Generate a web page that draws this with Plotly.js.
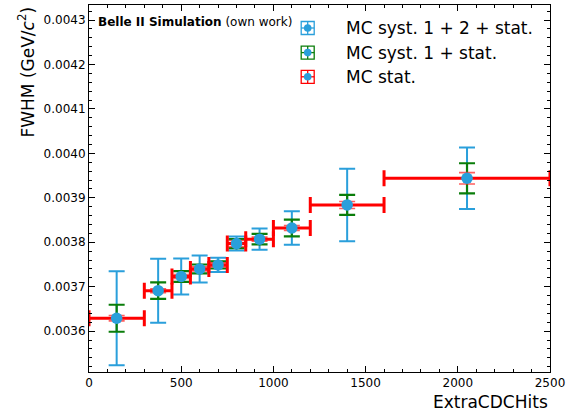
<!DOCTYPE html>
<html>
<head>
<meta charset="utf-8">
<script src="https://cdn.plot.ly/plotly-3.0.1.min.js"></script>
<style>html,body{margin:0;padding:0;background:#fff;}#plot{width:574px;height:413px;}</style>
</head>
<body>
<div id="plot"></div>
<script>
// ---- data ----
var binLow  = [0, 300, 450, 550, 650, 750, 850, 1000, 1200, 1600];
var binHigh = [300, 450, 550, 650, 750, 850, 1000, 1200, 1600, 2500];
var xCenter = [150, 375, 500, 600, 700, 800, 925, 1100, 1400, 2050];
var fwhm    = [0.003629, 0.003691, 0.003723, 0.003740, 0.003749, 0.003797, 0.003807, 0.003832, 0.003884, 0.003944];
var errStat   = [0.0000060, 0.0000045, 0.0000045, 0.0000045, 0.0000045, 0.0000068, 0.0000045, 0.0000056, 0.0000079, 0.0000128];
var errSyst1  = [0.0000304, 0.0000185, 0.0000120, 0.0000100, 0.0000080, 0.0000100, 0.0000117, 0.0000188, 0.0000225, 0.0000338];
var errSyst12 = [0.0001060, 0.0000720, 0.0000405, 0.0000304, 0.0000160, 0.0000158, 0.0000240, 0.0000378, 0.0000815, 0.0000691];
var legendLabels = ['MC syst. 1 + 2 + stat.', 'MC syst. 1 + stat.', 'MC stat.'];

var BLUE = '#2a9fdb', GREEN = '#0a7d0a', RED = '#ff0000';

var xPlus  = xCenter.map(function(v, i){ return binHigh[i] - v; });
var xMinus = xCenter.map(function(v, i){ return v - binLow[i]; });

var hidden = {size: 1, color: 'rgba(0,0,0,0)'};
var traces = [
  {x: xCenter, y: fwhm, type: 'scatter', mode: 'markers', marker: hidden, showlegend: false, hoverinfo: 'skip',
   error_y: {type: 'data', array: errSyst12, visible: true, color: BLUE, thickness: 2, width: 8}},
  {x: xCenter, y: fwhm, type: 'scatter', mode: 'markers', marker: hidden, showlegend: false, hoverinfo: 'skip',
   error_y: {type: 'data', array: errSyst1, visible: true, color: GREEN, thickness: 2.2, width: 8}},
  {x: xCenter, y: fwhm, type: 'scatter', mode: 'markers', showlegend: false,
   marker: {size: 11.5, color: BLUE},
   error_y: {type: 'data', array: errStat, visible: true, color: 'rgba(255,40,40,0.75)', thickness: 1.6, width: 8},
   error_x: {type: 'data', symmetric: false, array: xPlus, arrayminus: xMinus, visible: true, color: RED, thickness: 3, width: 8}}
];

// ---- manual legend (symbols like matplotlib errorbar handles) ----
var W = 461, H = 367, L = 89, T = 5;
function px(X){ return (X - L) / W; }
function py(Y){ return (T + H - Y) / H; }
var legCols = [BLUE, GREEN, RED];
var legRowsY = [28, 52.6, 76.8];
var shapes = [], annotations = [];
legCols.forEach(function(c, i){
  var ax = px(307.7), ay = py(legRowsY[i]);
  var base = {xref: 'paper', yref: 'paper', xsizemode: 'pixel', ysizemode: 'pixel', xanchor: ax, yanchor: ay};
  shapes.push(Object.assign({type: 'rect', x0: -6.5, x1: 6.5, y0: -6.5, y1: 6.5, line: {color: c, width: 1.3}}, base));
  shapes.push(Object.assign({type: 'line', x0: -6.5, x1: 6.5, y0: 0, y1: 0, line: {color: c, width: 1.3}}, base));
  shapes.push(Object.assign({type: 'line', x0: 0, x1: 0, y0: -6.5, y1: 6.5, line: {color: c, width: 1.3}}, base));
  shapes.push(Object.assign({type: 'circle', x0: -3.8, x1: 3.8, y0: -3.8, y1: 3.8, fillcolor: BLUE, line: {color: BLUE, width: 0}}, base));
  annotations.push({xref: 'paper', yref: 'paper', x: px(344), y: ay, xanchor: 'left', yanchor: 'middle',
    text: legendLabels[i], showarrow: false, font: {family: 'DejaVu Sans', size: 17, color: '#000'}});
});
annotations.push({xref: 'paper', yref: 'paper', x: px(96), y: py(22), xanchor: 'left', yanchor: 'middle',
  text: '<b>Belle II Simulation</b> (own work)', showarrow: false, font: {family: 'DejaVu Sans', size: 12, color: '#000'}});
annotations.push({xref: 'paper', yref: 'paper', x: 1, y: py(401.5), xanchor: 'right', yanchor: 'middle',
  text: 'ExtraCDCHits', showarrow: false, font: {family: 'DejaVu Sans', size: 17, color: '#000'}});
annotations.push({xref: 'paper', yref: 'paper', x: px(26), y: 1, xanchor: 'center', yanchor: 'top', textangle: -90,
  text: 'FWHM (GeV/<i>c</i><sup>2</sup>)', showarrow: false, font: {family: 'DejaVu Sans', size: 17, color: '#000'}});

var axisCommon = {showline: true, linecolor: '#000', linewidth: 1, mirror: 'allticks', ticks: 'inside', ticklen: 6,
  tickcolor: '#000', tickwidth: 1, showgrid: false, zeroline: false,
  tickfont: {family: 'DejaVu Sans', size: 12, color: '#000'}};

var layout = {
  width: 574, height: 413,
  margin: {l: L, r: 574 - L - W, t: T, b: 413 - T - H, pad: 0},
  paper_bgcolor: '#fff', plot_bgcolor: '#fff',
  showlegend: false,
  xaxis: Object.assign({}, axisCommon, {range: [0, 2500], dtick: 500, tick0: 0,
    minor: {dtick: 100, ticks: 'inside', ticklen: 3, tickcolor: '#000', showgrid: false}}),
  yaxis: Object.assign({}, axisCommon, {range: [0.003508, 0.004334], dtick: 0.0001, tick0: 0.0036, tickformat: '.4f',
    minor: {dtick: 0.00002, ticks: 'inside', ticklen: 3, tickcolor: '#000', showgrid: false}}),
  shapes: shapes,
  annotations: annotations
};

Plotly.newPlot('plot', traces, layout, {staticPlot: true, displayModeBar: false});
</script>
</body>
</html>
